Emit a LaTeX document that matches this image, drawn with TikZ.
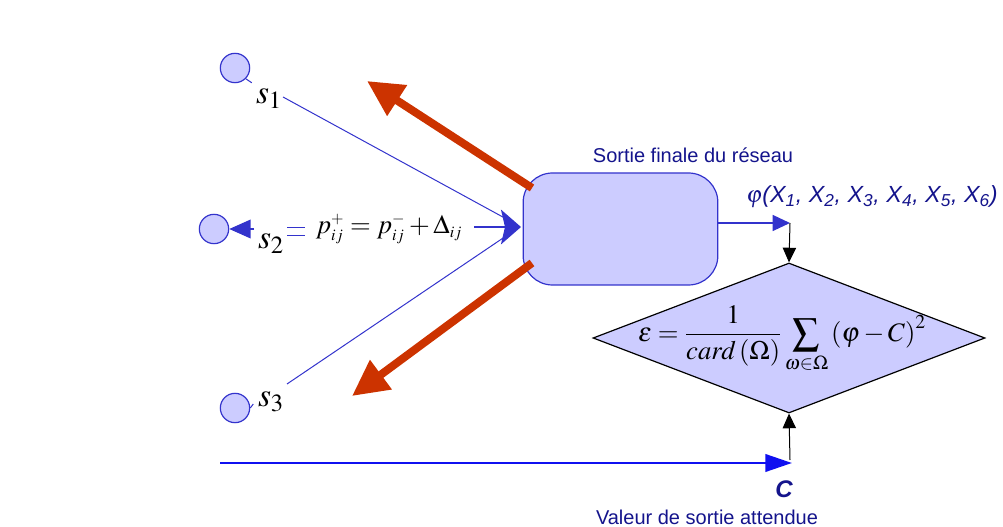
\documentclass[tikz,border=0pt]{standalone}
\usepackage{mathptmx}
\usepackage{fontspec}
\setsansfont{Liberation Sans}
\usetikzlibrary{arrows.meta,shapes.geometric}
\definecolor{lav}{HTML}{CCCCFF}
\definecolor{bord}{HTML}{3333CC}
\definecolor{redar}{HTML}{CC3300}
\definecolor{navy}{HTML}{14148C}
\definecolor{pureblue}{HTML}{1010F0}
\tikzset{
  pcirc/.style={circle,draw=bord,fill=lav,line width=0.9pt,minimum size=22pt,inner sep=0pt},
  thinblue/.style={draw=bord,line width=0.75pt},
  redarrow/.style={draw=redar,line width=6pt,-{Triangle[length=27pt,width=26pt]}},
  lbl/.style={font=\sffamily\fontsize{15}{17}\selectfont,text=navy,inner sep=0pt},
  slbl/.style={inner sep=0pt,font=\fontsize{25}{27}\selectfont},
  blackarr/.style={draw=black,line width=0.75pt,-{Triangle[length=11pt,width=10pt]}},
}
\begin{document}
\begin{tikzpicture}[x=0.75pt,y=-0.75pt]
\useasboundingbox (0,0) rectangle (1003,527);
% circles
\node[pcirc] (c1) at (235,68) {};
\node[pcirc] (c2) at (214,229) {};
\node[pcirc] (c3) at (235,408) {};
\draw[thinblue] (c1.-45) -- ++(6,4);
\draw[thinblue] (c3.east) -- ++(3,-4);
% labels s
\node[slbl] (s1) at (269,99) {$s_1$};
\node[slbl] (s2) at (271,244) {$s_2$};
\node[slbl] (s3) at (271,402) {$s_3$};
% box
\node[draw=bord,fill=lav,line width=0.9pt,rounded corners=22pt,minimum width=146pt,minimum height=84pt] (box) at (620.5,229) {};
\node[lbl] (sortie) at (693,155) {Sortie finale du réseau};
% big arrow head into box
\coordinate (tip) at (521,227);
\coordinate (pend) at (474,227);
\coordinate (a1) at (283,97);
\coordinate (a3) at (287,384);
\draw[thinblue] (a1) -- (512,222);
\draw[thinblue] (a3) -- (512,232);
\draw[draw=bord,fill=bord,line width=1.5pt,-{Stealth[length=15pt,width=26pt,inset=3pt]}] (pend) -- (tip);
% formula p
\node[inner sep=0pt,font=\fontsize{20}{22}\selectfont] (pf) at (389,229)
  {$p_{\scriptscriptstyle ij}^{\scriptscriptstyle +} = p_{\scriptscriptstyle ij}^{\scriptscriptstyle -} + \Delta_{\scriptscriptstyle ij}$};
% blue equals and arrow to s2
\draw[draw=bord,line width=1pt] (287,227.5) -- (305,227.5);
\draw[draw=bord,line width=1pt] (287,235.5) -- (305,235.5);
\coordinate (s2h) at (254,229);
\draw[draw=bord,line width=1pt,-{Triangle[length=16pt,width=14pt]}] (s2h) -- (c2.east);
% red arrows
\coordinate (r1s) at (532,188);
\coordinate (r1e) at (367,81);
\coordinate (r2s) at (532,263);
\coordinate (r2e) at (352,396);
\draw[redarrow] (r1s) -- (r1e);
\draw[redarrow] (r2s) -- (r2e);
% output arrow
\coordinate (j) at (790,223);
\draw[draw=bord,line width=1pt,-{Triangle[length=13pt,width=12pt]}] (box.east |- j) -- (j);
\node[inner sep=0pt,text=navy,font=\sffamily\itshape\fontsize{17.5}{19}\selectfont,anchor=west] (phi) at (746,197)
  {$\varphi$(X\textsubscript{1}, X\textsubscript{2}, X\textsubscript{3}, X\textsubscript{4}, X\textsubscript{5}, X\textsubscript{6})};
% diamond
\node[diamond,draw=black,fill=lav,line width=0.9pt,minimum width=294pt,minimum height=112.5pt,inner sep=0pt,aspect=2.6] (dia) at (789,338) {};
\node[inner sep=0pt,font=\fontsize{20}{22}\selectfont] (eps) at (782,339)
  {$\displaystyle \varepsilon = \frac{1}{card\left(\Omega\right)}\sum_{\omega\in\Omega}\left(\varphi - C\right)^{2}$};
\draw[blackarr] (j) -- (dia.north);
% bottom
\coordinate (cb0) at (220,463);
\coordinate (cb) at (792,463);
\draw[draw=pureblue,line width=2.2pt,-{Triangle[length=20pt,width=13pt]}] (cb0) -- (cb);
\coordinate (vb) at (790,460);
\draw[blackarr] (vb) -- (dia.south);
\node[inner sep=0pt,text=navy,font=\sffamily\bfseries\itshape\fontsize{18}{20}\selectfont] (C) at (784,489) {C};
\node[lbl] (val) at (707,517) {Valeur de sortie attendue};
\end{tikzpicture}
\end{document}
